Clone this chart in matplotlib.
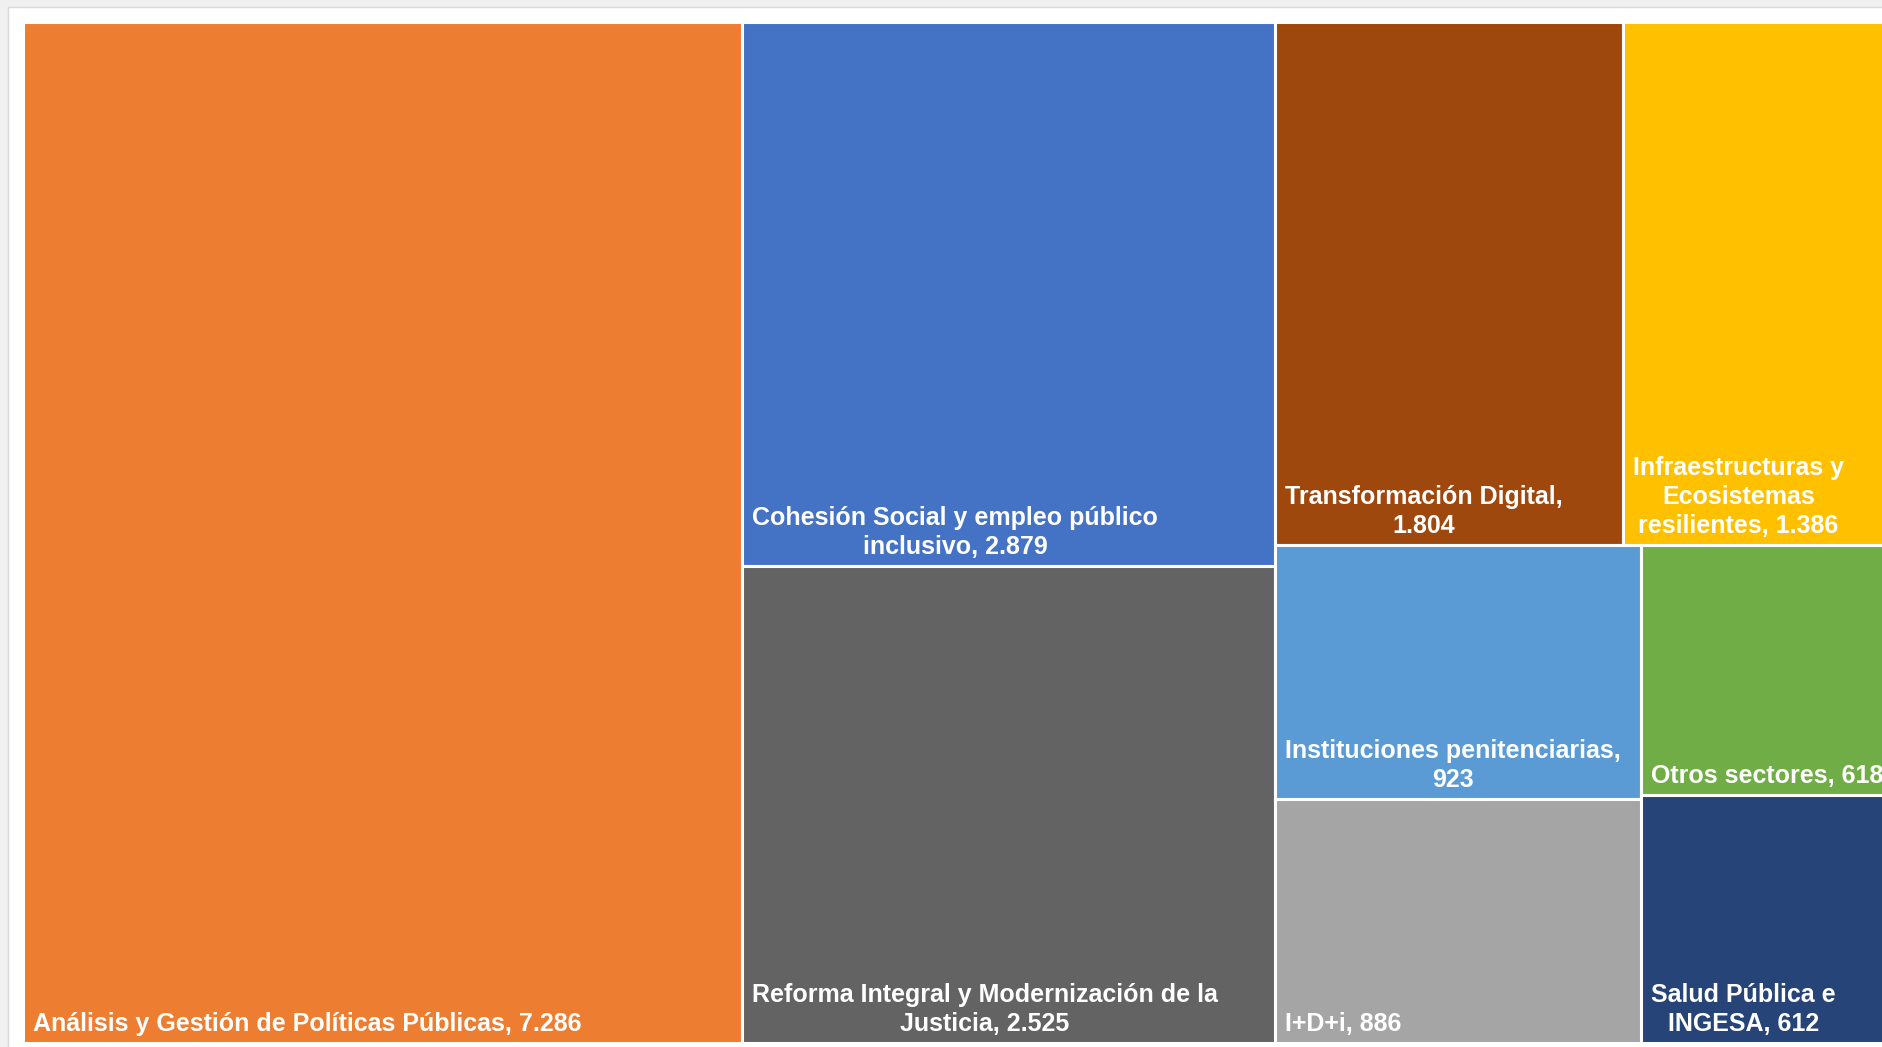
import matplotlib
matplotlib.use("Agg")
import matplotlib.pyplot as plt
from matplotlib.patches import Rectangle

# ---- data ----
label_templates = [
    "Análisis y Gestión de Políticas Públicas, {v}",
    "Cohesión Social y empleo público\ninclusivo, {v}",
    "Reforma Integral y Modernización de la\nJusticia, {v}",
    "Transformación Digital,\n{v}",
    "Infraestructuras y\nEcosistemas\nresilientes, {v}",
    "Instituciones penitenciarias,\n{v}",
    "I+D+i, {v}",
    "Otros sectores, {v}",
    "Salud Pública e\nINGESA, {v}",
]
values = [7286, 2879, 2525, 1804, 1386, 923, 886, 618, 612]
colors = ["#ED7D31", "#4472C4", "#636363", "#9E480E", "#FFC000",
          "#5B9BD5", "#A5A5A5", "#70AD47", "#264478"]
# nesting of the treemap (indices into the lists above)
tree = [0, [1, 2], [[3, 4], [[5, 6], [7, 8]]]]

W_PX, H_PX = 1883, 1047
fig = plt.figure(figsize=(W_PX / 100, H_PX / 100), dpi=100)
fig.patch.set_facecolor("#f0f0f0")
fig.patches.append(Rectangle((8 / W_PX, -0.01), 1.0, (H_PX - 7) / H_PX + 0.01,
                             transform=fig.transFigure, facecolor="white",
                             edgecolor="#d9d9d9", linewidth=1.0, zorder=-5))

left, top, right, bottom = 23, 22, 1890, 1043
ax = fig.add_axes([left / W_PX, (H_PX - bottom) / H_PX,
                   (right - left) / W_PX, (bottom - top) / H_PX])
ax.set_zorder(1)
ax.set_xlim(0, right - left)
ax.set_ylim(bottom - top, 0)
ax.axis("off")


def total(node):
    if isinstance(node, int):
        return values[node]
    return sum(total(c) for c in node)


rects = {}


def layout(node, x, y, w, h, depth):
    if isinstance(node, int):
        rects[node] = (x, y, w, h)
        return
    s = total(node)
    pos = 0.0
    for c in node:
        f = total(c) / s
        if depth % 2 == 0:  # split into columns
            layout(c, x + pos * w, y, f * w, h, depth + 1)
        else:               # split into rows
            layout(c, x, y + pos * h, w, f * h, depth + 1)
        pos += f


layout(tree, 0, 0, right - left, bottom - top, 0)


def fmt(v):
    return f"{v:,}".replace(",", ".")


for i, (x, y, w, h) in rects.items():
    ax.add_patch(Rectangle((x, y), w, h, facecolor=colors[i],
                           edgecolor="white", linewidth=2.2))
    ax.annotate(label_templates[i].format(v=fmt(values[i])),
                xy=(x, y + h), xytext=(10, 7), textcoords="offset pixels",
                ha="left", va="bottom", multialignment="center",
                color="white", fontsize=18, fontweight="bold",
                family=["Liberation Sans", "DejaVu Sans"], linespacing=1.25,
                annotation_clip=False)

fig.savefig("out.png", dpi=100, facecolor=fig.get_facecolor())
